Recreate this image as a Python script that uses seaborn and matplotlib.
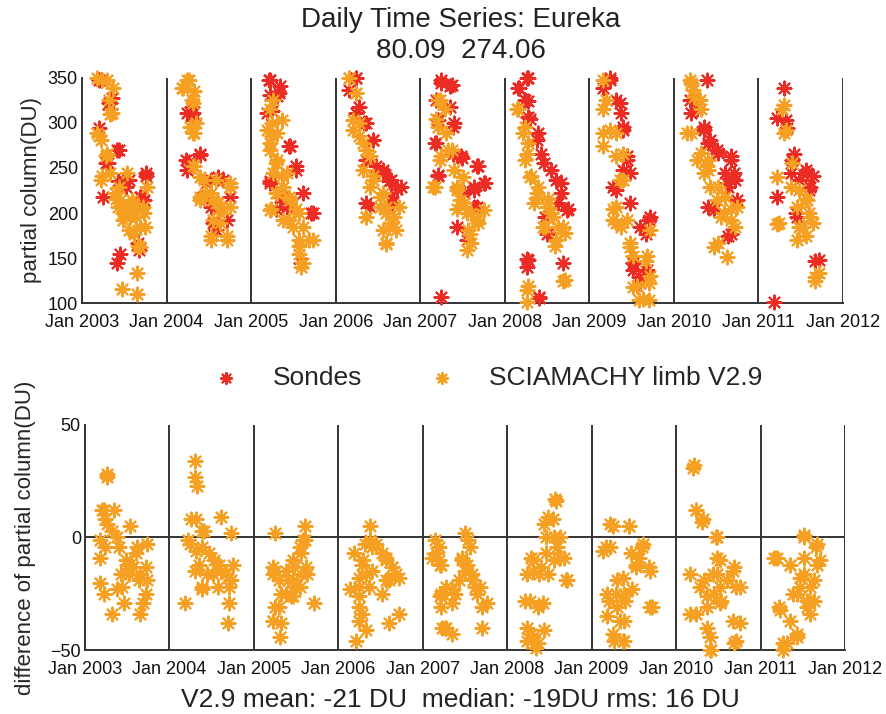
import numpy as np
import pandas as pd
import matplotlib
matplotlib.use("Agg")
import matplotlib.pyplot as plt
import seaborn as sns

# --- data (decimal year, DU), one or two lines per year ---
sondes_t = [
    2003.22, 2003.35, 2003.33, 2003.20, 2003.41, 2003.25, 2003.43, 2003.45, 2003.41, 2003.76, 2003.69, 2003.67, 2003.31, 2003.55, 2003.73,
    2003.44, 2003.28, 2003.52, 2003.76, 2003.70, 2003.32, 2003.20, 2003.48, 2003.66,
    2004.30, 2004.24, 2004.40, 2004.26, 2004.24, 2004.61, 2004.47, 2004.75, 2004.71, 2004.52, 2004.75, 2004.59,
    2004.31, 2004.23, 2004.39, 2004.52, 2004.67, 2004.43, 2004.75, 2004.55, 2004.31,
    2005.21, 2005.34, 2005.22, 2005.30, 2005.19, 2005.46, 2005.53, 2005.22, 2005.34, 2005.61, 2005.71, 2005.59, 2005.42,
    2005.22, 2005.33, 2005.25, 2005.45, 2005.22, 2005.37, 2005.53, 2005.29, 2005.73,
    2006.24, 2006.16, 2006.28, 2006.34, 2006.44, 2006.36, 2006.56, 2006.63, 2006.73, 2006.36, 2006.67,
    2006.24, 2006.24, 2006.36, 2006.44, 2006.56, 2006.65, 2006.77, 2006.40, 2006.65, 2006.48,
    2007.25, 2007.35, 2007.19, 2007.35, 2007.39, 2007.19, 2007.39, 2007.49, 2007.21, 2007.67, 2007.75, 2007.63, 2007.55, 2007.25, 2007.67,
    2007.25, 2007.37, 2007.21, 2007.40, 2007.17, 2007.48, 2007.68, 2007.64, 2007.76, 2007.52, 2007.64, 2007.44, 2007.21,
    2008.26, 2008.17, 2008.24, 2008.30, 2008.38, 2008.46, 2008.61, 2008.67, 2008.73, 2008.26, 2008.26, 2008.69, 2008.40, 2008.50,
    2008.28, 2008.16, 2008.28, 2008.28, 2008.39, 2008.43, 2008.55, 2008.67, 2008.75, 2008.47, 2008.63, 2008.51, 2008.28, 2008.41,
    2009.24, 2009.16, 2009.32, 2009.37, 2009.40, 2009.44, 2009.48, 2009.32, 2009.71, 2009.67, 2009.52, 2009.67, 2009.59,
    2009.24, 2009.36, 2009.40, 2009.44, 2009.40, 2009.28, 2009.48, 2009.72, 2009.60, 2009.52, 2009.68, 2009.60,
    2010.39, 2010.19, 2010.27, 2010.35, 2010.43, 2010.51, 2010.67, 2010.71, 2010.63, 2010.75, 2010.47, 2010.67,
    2010.20, 2010.36, 2010.40, 2010.52, 2010.68, 2010.60, 2010.72, 2010.64, 2010.40, 2010.64,
    2011.30, 2011.22, 2011.34, 2011.42, 2011.38, 2011.57, 2011.22, 2011.61, 2011.67, 2011.18, 2011.45,
    2011.32, 2011.40, 2011.56, 2011.64, 2011.48, 2011.60, 2011.44, 2011.72,
]
sondes_du = [
    348, 328, 315, 294, 270, 218, 235, 155, 144, 244, 218, 159, 255, 237, 214,
    270, 255, 229, 241, 218, 322, 348, 237, 167,
    318, 311, 264, 257, 248, 240, 233, 218, 192, 207, 229, 181,
    311, 259, 266, 237, 237, 218, 218, 189, 303,
    348, 341, 331, 330, 311, 274, 252, 235, 218, 222, 200, 144, 207,
    348, 333, 313, 274, 233, 218, 248, 204, 200,
    350, 337, 318, 300, 281, 259, 244, 235, 227, 211, 211,
    350, 311, 300, 281, 248, 237, 229, 207, 218, 252,
    348, 341, 326, 318, 296, 278, 266, 261, 242, 252, 233, 226, 170, 107, 207,
    344, 342, 303, 300, 278, 263, 252, 229, 233, 222, 207, 185, 241,
    350, 339, 326, 304, 281, 255, 237, 222, 203, 149, 140, 144, 107, 177,
    350, 339, 324, 307, 289, 266, 248, 233, 204, 196, 211, 178, 148, 106,
    348, 339, 326, 311, 296, 259, 244, 226, 192, 177, 144, 136, 129,
    350, 322, 292, 263, 248, 229, 211, 196, 185, 137, 137, 122,
    348, 326, 315, 296, 281, 270, 263, 244, 233, 214, 203, 177,
    311, 292, 278, 267, 259, 244, 237, 229, 207, 174,
    339, 305, 294, 266, 244, 244, 218, 229, 147, 101, 196,
    303, 259, 248, 241, 237, 226, 200, 148,
]

scia_t = [
    2003.18, 2003.29, 2003.37, 2003.33, 2003.18, 2003.22, 2003.29, 2003.22, 2003.33, 2003.45, 2003.49, 2003.57, 2003.65,
    2003.73, 2003.53, 2003.61, 2003.69, 2003.47, 2003.65, 2003.65, 2003.75, 2003.43, 2003.59, 2003.39, 2003.77,
    2003.40, 2003.52, 2003.64, 2003.72, 2003.48, 2003.60, 2003.68, 2003.24, 2003.28, 2003.20, 2003.36, 2003.32,
    2003.24, 2003.44, 2003.56, 2003.66,
    2004.24, 2004.18, 2004.32, 2004.30, 2004.32, 2004.28, 2004.32, 2004.40, 2004.47, 2004.55, 2004.63, 2004.75, 2004.75,
    2004.52, 2004.71, 2004.55, 2004.61, 2004.40,
    2004.27, 2004.19, 2004.31, 2004.35, 2004.31, 2004.31, 2004.44, 2004.52, 2004.59, 2004.67, 2004.75, 2004.63,
    2004.52, 2004.71, 2004.40, 2004.59,
    2005.26, 2005.19, 2005.22, 2005.30, 2005.26, 2005.22, 2005.38, 2005.46, 2005.38, 2005.50, 2005.57, 2005.56, 2005.59,
    2005.73, 2005.30, 2005.42, 2005.57, 2005.30,
    2005.22, 2005.25, 2005.22, 2005.29, 2005.37, 2005.29, 2005.45, 2005.53, 2005.45, 2005.61, 2005.69, 2005.57,
    2005.61, 2005.25, 2005.37, 2005.23,
    2006.16, 2006.24, 2006.20, 2006.32, 2006.40, 2006.44, 2006.36, 2006.56, 2006.60, 2006.63, 2006.60, 2006.71, 2006.52,
    2006.75, 2006.28,
    2006.16, 2006.24, 2006.20, 2006.28, 2006.36, 2006.32, 2006.44, 2006.40, 2006.52, 2006.60, 2006.65, 2006.56,
    2006.69, 2006.36, 2006.60,
    2007.23, 2007.19, 2007.31, 2007.37, 2007.23, 2007.51, 2007.47, 2007.55, 2007.67, 2007.59, 2007.55, 2007.75, 2007.15,
    2007.43,
    2007.21, 2007.29, 2007.21, 2007.33, 2007.25, 2007.40, 2007.44, 2007.52, 2007.60, 2007.68, 2007.44, 2007.56,
    2007.60, 2007.17,
    2008.15, 2008.22, 2008.26, 2008.30, 2008.38, 2008.50, 2008.45, 2008.61, 2008.69, 2008.57, 2008.69, 2008.26, 2008.26,
    2008.34,
    2008.16, 2008.24, 2008.28, 2008.24, 2008.31, 2008.39, 2008.51, 2008.55, 2008.47, 2008.63, 2008.71, 2008.59,
    2008.71, 2008.28, 2008.39,
    2009.16, 2009.20, 2009.16, 2009.32, 2009.40, 2009.40, 2009.32, 2009.38, 2009.48, 2009.52, 2009.67, 2009.71, 2009.59,
    2009.71, 2009.28,
    2009.16, 2009.24, 2009.16, 2009.32, 2009.36, 2009.28, 2009.44, 2009.48, 2009.52, 2009.72, 2009.68, 2009.56,
    2009.72, 2009.64, 2009.32,
    2010.19, 2010.23, 2010.31, 2010.15, 2010.27, 2010.35, 2010.43, 2010.51, 2010.59, 2010.67, 2010.47, 2010.63, 2010.75,
    2010.39,
    2010.20, 2010.24, 2010.32, 2010.20, 2010.32, 2010.40, 2010.52, 2010.60, 2010.68, 2010.56, 2010.72, 2010.52,
    2010.40,
    2011.30, 2011.22, 2011.30, 2011.38, 2011.45, 2011.53, 2011.45, 2011.61, 2011.67, 2011.67, 2011.22, 2011.57,
    2011.28, 2011.32, 2011.40, 2011.48, 2011.56, 2011.60, 2011.48, 2011.56, 2011.64, 2011.24, 2011.72,
]
scia_du = [
    350, 348, 339, 310, 289, 281, 266, 237, 244, 214, 200, 196, 203,
    200, 244, 177, 162, 116, 110, 133, 185, 207, 214, 222, 229,
    215, 204, 196, 207, 192, 211, 185, 241, 263, 285, 311, 326,
    348, 229, 181, 163,
    348, 339, 335, 326, 289, 296, 252, 240, 222, 214, 200, 233, 207,
    174, 170, 192, 211, 214,
    348, 339, 322, 300, 289, 252, 237, 222, 211, 204, 229, 189,
    170, 174, 218, 237,
    326, 292, 278, 259, 244, 203, 229, 214, 192, 185, 170, 155, 140,
    170, 289, 244, 200, 222,
    315, 285, 270, 255, 241, 222, 218, 204, 192, 185, 170, 163,
    144, 300, 303, 204,
    350, 333, 292, 278, 263, 237, 196, 222, 200, 185, 166, 181, 207,
    207, 300,
    350, 333, 303, 285, 270, 248, 241, 229, 218, 207, 189, 181,
    196, 196, 167,
    326, 304, 289, 270, 259, 240, 214, 200, 192, 177, 159, 203, 229,
    229,
    326, 315, 296, 270, 263, 248, 226, 211, 200, 189, 204, 181,
    167, 229,
    315, 289, 266, 240, 222, 207, 185, 170, 185, 196, 125, 114, 101,
    211,
    315, 296, 278, 259, 241, 229, 215, 200, 185, 185, 178, 163,
    126, 119, 218,
    348, 326, 289, 289, 266, 237, 207, 185, 162, 118, 147, 122, 103,
    103, 192,
    315, 292, 274, 263, 237, 204, 192, 167, 152, 181, 152, 119,
    130, 104, 189,
    348, 337, 326, 289, 259, 244, 229, 214, 200, 192, 162, 151, 207,
    252,
    344, 329, 315, 289, 267, 248, 229, 218, 204, 196, 185, 167,
    259,
    320, 240, 289, 229, 207, 185, 170, 196, 129, 125, 188, 214,
    315, 292, 255, 226, 215, 200, 185, 174, 189, 189, 133,
]

diff_t = [
    2003.26, 2003.26, 2003.22, 2003.34, 2003.26, 2003.18, 2003.38, 2003.53, 2003.18, 2003.50, 2003.42, 2003.18,
    2003.22, 2003.65, 2003.73, 2003.69, 2003.46, 2003.32, 2003.65, 2003.38, 2003.61, 2003.73, 2003.57,
    2003.24, 2003.32, 2003.40, 2003.48, 2003.60, 2003.52, 2003.64, 2003.44, 2003.56, 2003.72, 2003.24, 2003.20, 2003.72,
    2004.30, 2004.30, 2004.33, 2004.26, 2004.61, 2004.41, 2004.73, 2004.22, 2004.38, 2004.53, 2004.30, 2004.45,
    2004.61, 2004.38, 2004.73, 2004.71, 2004.69, 2004.18, 2004.57,
    2004.31, 2004.39, 2004.31, 2004.47, 2004.59, 2004.67, 2004.51, 2004.71, 2004.39, 2004.35, 2004.24, 2004.75,
    2005.25, 2005.60, 2005.60, 2005.56, 2005.48, 2005.25, 2005.40, 2005.32, 2005.48, 2005.63, 2005.71, 2005.25,
    2005.23, 2005.32, 2005.31, 2005.44, 2005.56,
    2005.54, 2005.46, 2005.38, 2005.30, 2005.46, 2005.54, 2005.38, 2005.23, 2005.62, 2005.30, 2005.23, 2005.58,
    2005.23, 2005.46,
    2006.38, 2006.38, 2006.45, 2006.18, 2006.29, 2006.33, 2006.25, 2006.56, 2006.64, 2006.60, 2006.68, 2006.14,
    2006.25, 2006.25, 2006.33, 2006.21, 2006.72, 2006.60, 2006.52,
    2006.32, 2006.40, 2006.28, 2006.24, 2006.40, 2006.56, 2006.64, 2006.56, 2006.72, 2006.24, 2006.28, 2006.36,
    2006.52,
    2007.19, 2007.22, 2007.11, 2007.34, 2007.50, 2007.54, 2007.50, 2007.58, 2007.62, 2007.70, 2007.70, 2007.26,
    2007.34, 2007.38, 2007.46, 2007.22, 2007.14, 2007.19, 2007.22, 2007.23,
    2007.16, 2007.20, 2007.28, 2007.20, 2007.35, 2007.28, 2007.43, 2007.47, 2007.52, 2007.60, 2007.68, 2007.76,
    2007.56, 2007.64,
    2008.57, 2008.48, 2008.44, 2008.55, 2008.63, 2008.28, 2008.40, 2008.55, 2008.67, 2008.71, 2008.24, 2008.21,
    2008.36, 2008.28, 2008.24, 2008.36, 2008.44, 2008.48,
    2008.30, 2008.46, 2008.62, 2008.70, 2008.38, 2008.30, 2008.27, 2008.42, 2008.59, 2008.54, 2008.46, 2008.23,
    2008.30, 2008.34, 2008.58,
    2009.22, 2009.44, 2009.14, 2009.22, 2009.61, 2009.53, 2009.69, 2009.46, 2009.69, 2009.30, 2009.18, 2009.38,
    2009.30, 2009.18, 2009.38, 2009.26, 2009.38,
    2009.25, 2009.44, 2009.17, 2009.60, 2009.52, 2009.68, 2009.37, 2009.29, 2009.40, 2009.21, 2009.48, 2009.72,
    2009.33, 2009.25, 2009.37, 2009.56,
    2010.21, 2010.23, 2010.31, 2010.47, 2010.49, 2010.17, 2010.33, 2010.49, 2010.68, 2010.45, 2010.53, 2010.17,
    2010.37, 2010.41, 2010.68, 2010.76, 2010.76, 2010.37,
    2010.20, 2010.24, 2010.32, 2010.48, 2010.52, 2010.44, 2010.60, 2010.67, 2010.71, 2010.28, 2010.36, 2010.52,
    2010.24, 2010.67, 2010.40, 2010.71, 2010.40, 2010.52,
    2011.51, 2011.67, 2011.16, 2011.67, 2011.35, 2011.51, 2011.39, 2011.55, 2011.22, 2011.59, 2011.43, 2011.27,
    2011.27, 2011.47, 2011.63,
    2011.51, 2011.66, 2011.19, 2011.35, 2011.51, 2011.70, 2011.47, 2011.59, 2011.43, 2011.55, 2011.23, 2011.35,
    2011.43, 2011.31, 2011.63,
]
diff_du = [
    28, 27, 12, 12, 6, -1, 0, 5, -9, -12, -16, -20,
    -25, -16, -19, -29, -29, -34, -34, -23, -4, -3, -13,
    8, 3, -4, -10, -7, -16, -19, -22, -13, -25, -4, 12, -13,
    34, 27, 23, 8, 9, 3, 2, -1, -4, -10, -15, -16,
    -15, -23, -19, -29, -38, -29, -22,
    8, 3, -6, -7, -12, -16, -16, -22, -22, -12, -3, -12,
    2, 5, -1, -7, -13, -15, -19, -25, -22, -16, -29, -31,
    -37, -38, -44, -26, -16,
    -4, -10, -15, -19, -19, -22, -25, -16, -13, -31, -37, -1,
    -13, -26,
    5, -1, -3, -7, -10, -16, -22, -9, -13, -19, -16, -23,
    -31, -37, -41, -46, -34, -38, -25,
    -3, -4, -12, -18, -15, -10, -13, -19, -18, -26, -34, -22,
    -7,
    -4, -12, -9, -23, -15, -1, 2, -16, -22, -31, -40, -40,
    -43, -25, -9, -31, -1, -10, -25, -40,
    -7, -12, -22, -26, -29, -40, -19, -10, -12, -19, -22, -29,
    -4, -25,
    17, 9, 6, 0, 0, -9, -13, -10, -9, -19, -16, -28,
    -31, -43, -46, -47, -41, -16,
    -10, -7, -9, -19, -16, -15, -28, -29, -4, 8, 0, -40,
    -44, -49, 16,
    6, 5, -6, -4, -3, -13, -15, -7, -31, -19, -25, -25,
    -31, -35, -37, -46, -46,
    5, 5, -4, -4, -12, -13, -18, -25, -28, -28, -23, -31,
    -37, -43, -46, -9,
    32, 12, 7, 0, -9, -16, -19, -16, -13, -25, -28, -34,
    -40, -50, -47, -38, -22, -31,
    31, 12, 8, 0, -10, -16, -19, -15, -22, -22, -26, -29,
    -34, -37, -44, -46, -50, -22,
    0, -3, -9, -12, -12, -16, -25, -28, -31, -34, -44, -47,
    -50, -22, -19,
    1, -4, -9, -12, -9, -10, -18, -22, -25, -31, -32, -37,
    -43, -47, -28,
]

years = list(range(2003, 2013))
year_labels = [f"Jan {y}" for y in years]

red = "#ec2b25"
orange = "#f5a023"
ink = "#333333"
star = (8, 2, 0)
msize = 100

sns.set_style("white")
plt.rcParams["font.family"] = ["Liberation Sans", "DejaVu Sans"]

fig = plt.figure(figsize=(8.86, 7.14), dpi=100)
ax1 = fig.add_axes([0.0926, 0.5756, 0.8589, 0.3152])
ax2 = fig.add_axes([0.0960, 0.0896, 0.8577, 0.3152])

sondes = pd.DataFrame({"t": sondes_t, "du": sondes_du})
scia = pd.DataFrame({"t": scia_t, "du": scia_du})
diff = pd.DataFrame({"t": diff_t, "du": diff_du})

sns.scatterplot(data=sondes, x="t", y="du", ax=ax1, marker=star, color=red, s=msize,
                linewidth=1.5, label="Sondes", legend=False, zorder=3, clip_on=False)
sns.scatterplot(data=scia, x="t", y="du", ax=ax1, marker=star, color=orange, s=msize,
                linewidth=1.5, label="SCIAMACHY limb V2.9", legend=False, zorder=4, clip_on=False)
sns.scatterplot(data=diff, x="t", y="du", ax=ax2, marker=star, color=orange, s=msize,
                linewidth=1.5, legend=False, zorder=4, clip_on=False)

for ax, ylim, yt in [(ax1, (100, 350), range(100, 351, 50)),
                     (ax2, (-50, 50), [-50, 0, 50])]:
    ax.set_xlim(2003, 2012)
    ax.set_ylim(*ylim)
    ax.set_yticks(list(yt))
    ax.set_xticks(years)
    ax.set_xticklabels(year_labels)
    for y in years[1:]:
        ax.axvline(y, color=ink, lw=1.4, zorder=2)
    for side in ["top", "right"]:
        ax.spines[side].set_visible(False)
    for side in ["left", "bottom"]:
        ax.spines[side].set_color(ink)
        ax.spines[side].set_linewidth(1.4)
    ax.tick_params(direction="in", length=4, width=1.2, color=ink,
                   labelsize=13, labelcolor="#111111")
    ax.tick_params(axis="x", pad=8)
    ax.tick_params(axis="y", pad=3)
    ax.set_xlabel("")

ax2.axhline(0, color=ink, lw=1.4, zorder=2)
ax1.set_ylabel("partial column(DU)", fontsize=16, labelpad=4)
ax2.set_ylabel("difference of partial column(DU)", fontsize=16, labelpad=10)

fig.text(0.52, 0.972, "Daily Time Series: Eureka", ha="center", va="center", fontsize=20, color="#222222")
fig.text(0.52, 0.928, "80.09  274.06", ha="center", va="center", fontsize=20, color="#222222")
fig.text(0.52, 0.02, "V2.9 mean: -21 DU  median: -19DU rms: 16 DU", ha="center", va="center",
         fontsize=19, color="#222222")

handles, labels = ax1.get_legend_handles_labels()
fig.legend(handles, labels, loc="center", bbox_to_anchor=(0.543, 0.47), ncol=2, frameon=False,
           fontsize=19, handletextpad=0.8, columnspacing=2.0, markerscale=0.8)

fig.savefig("out.png", dpi=100)
